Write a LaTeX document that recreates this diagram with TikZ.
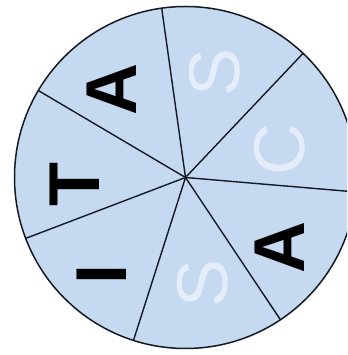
\documentclass[tikz,border=0pt]{standalone}
\usepackage{fontspec}
\setmainfont{Liberation Sans}
\usetikzlibrary{calc}
\definecolor{sectorfill}{RGB}{197,217,241}
\definecolor{faint}{RGB}{228,237,249}
\definecolor{edge}{RGB}{20,25,35}
\begin{document}
\begin{tikzpicture}[x=1pt,y=1pt,
  dark/.style={font=\fontsize{72}{72}\selectfont\bfseries, text=black, rotate=90, inner sep=0pt},
  light/.style={font=\fontsize{72}{72}\selectfont, text=faint, rotate=90, inner sep=0pt},
  spoke/.style={draw=edge, line width=1.4pt}]
\useasboundingbox (0,0) rectangle (347,355);
\clip (0,0) rectangle (347,355);
\coordinate (o) at (185.5,177.5);
\fill[sectorfill] (o) circle (171);
\foreach \i in {0,...,6} {
  \coordinate (p\i) at ($(o)+({98-\i*360/7}:171)$);
}
\foreach \i in {0,...,6} {
  \draw[spoke] (o) -- (p\i);
}
\draw[draw=edge, line width=1.5pt] (o) circle (171);
\node[dark] (a1) at (112,265) {A};
\node[light] (s1) at (215,283) {S};
\node[light] (c) at (280,205) {C};
\node[dark] (a2) at (280,107) {A};
\node[light] (s2) at (203,72) {S};
\node[dark] (i) at (102,80) {I};
\node[dark] (t) at (75,170) {T};
\end{tikzpicture}
\end{document}
